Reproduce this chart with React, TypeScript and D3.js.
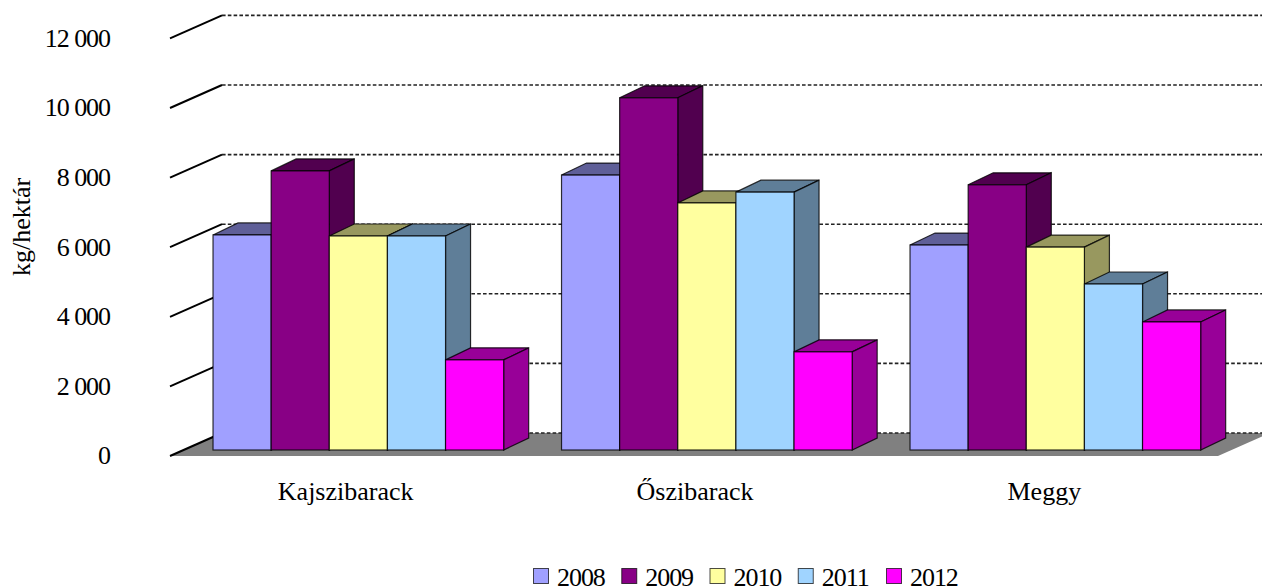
import { useEffect, useRef } from 'react';
import { scaleBand, scaleLinear, scalePoint, select, formatLocale, color } from 'd3';

const categories = ['Kajszibarack', 'Őszibarack', 'Meggy'];
const years = ['2008', '2009', '2010', '2011', '2012'];
const colors = ['#a0a0ff', '#880085', '#ffff9f', '#a0d4ff', '#ff00ff'];
const values2008 = [6180, 7900, 5890];
const values2009 = [8020, 10120, 7620];
const values2010 = [6150, 7100, 5830];
const values2011 = [6150, 7410, 4770];
const values2012 = [2590, 2820, 3680];
const series = [values2008, values2009, values2010, values2011, values2012];
const ticks = [0, 2000, 4000, 6000, 8000, 10000, 12000];

const width = 1262;
const height = 588;
const font = '"Liberation Serif", "Times New Roman", serif';

const fmt = formatLocale({ decimal: ',', thousands: ' ', grouping: [3], currency: ['', ''] }).format(',d');

const App = () => {
  const ref = useRef<SVGSVGElement>(null);

  useEffect(() => {
    const svg = select(ref.current);
    svg.selectAll('*').remove();

    // floor: front edge to back edge
    const frontLeft = 170;
    const frontRight = 1218;
    const floorDx = 52;
    const floorDy = -23;
    const barDx = 25;
    const barDy = -12;
    const baseLift = 6;

    const y = scaleLinear().domain([0, 12000]).range([456, 38.4]);
    const x0 = scaleBand().domain(categories).range([184.1, 1229.6]).paddingInner(0.166).paddingOuter(0.083);
    const x1 = scaleBand().domain(years).range([0, x0.bandwidth()]);
    const xLabel = scaleBand().domain(categories).range([frontLeft + 1, frontRight + 1]);

    svg
      .append('polygon')
      .attr(
        'points',
        [
          [frontLeft, y(0)],
          [frontLeft + floorDx, y(0) + floorDy],
          [frontRight + floorDx, y(0) + floorDy],
          [frontRight, y(0)],
        ].join(' '),
      )
      .attr('fill', '#808080');

    const grid = svg.append('g');
    ticks.forEach((t) => {
      grid
        .append('line')
        .attr('x1', frontLeft + floorDx)
        .attr('x2', width)
        .attr('y1', y(t) + floorDy)
        .attr('y2', y(t) + floorDy)
        .attr('stroke', '#222')
        .attr('stroke-width', 1.6)
        .attr('stroke-dasharray', '3.6 2.2');
      grid
        .append('line')
        .attr('x1', frontLeft)
        .attr('x2', frontLeft + floorDx)
        .attr('y1', y(t))
        .attr('y2', y(t) + floorDy)
        .attr('stroke', '#000')
        .attr('stroke-width', 2);
      grid
        .append('text')
        .attr('x', 110)
        .attr('y', y(t))
        .attr('dy', '0.32em')
        .attr('text-anchor', 'end')
        .attr('font-family', font)
        .attr('font-size', 26)
        .attr('letter-spacing', -1.05)
        .text(fmt(t));
    });

    const bars = svg.append('g').attr('stroke', '#000').attr('stroke-width', 1.2).attr('stroke-opacity', 0.8);
    categories.forEach((cat, c) => {
      years.forEach((year, s) => {
        const xl = (x0(cat) as number) + (x1(year) as number);
        const xr = xl + x1.bandwidth();
        const top = y(series[s][c]) - baseLift;
        const base = y(0) - baseLift;
        const dark = (color(colors[s]) as any).darker(1.45).formatHex();

        bars
          .append('polygon')
          .attr('points', [[xl, top], [xl + barDx, top + barDy], [xr + barDx, top + barDy], [xr, top]].join(' '))
          .attr('fill', dark);
        bars
          .append('polygon')
          .attr('points', [[xr, top], [xr + barDx, top + barDy], [xr + barDx, base + barDy], [xr, base]].join(' '))
          .attr('fill', dark);
        bars
          .append('rect')
          .attr('x', xl)
          .attr('y', top)
          .attr('width', x1.bandwidth())
          .attr('height', base - top)
          .attr('fill', colors[s]);
      });

      svg
        .append('text')
        .attr('x', (xLabel(cat) as number) + xLabel.bandwidth() / 2)
        .attr('y', 500)
        .attr('text-anchor', 'middle')
        .attr('font-family', font)
        .attr('font-size', 26)
        .text(cat);
    });

    svg
      .append('text')
      .attr('transform', 'translate(29.5,227) rotate(-90)')
      .attr('text-anchor', 'middle')
      .attr('font-family', font)
      .attr('font-size', 26)
      .text('kg/hektár');

    const legendX = scalePoint().domain(years).range([533, 886]);
    years.forEach((year, s) => {
      const lx = legendX(year) as number;
      svg
        .append('rect')
        .attr('x', lx + 0.5)
        .attr('y', 568.5)
        .attr('width', 15)
        .attr('height', 15)
        .attr('fill', colors[s])
        .attr('stroke', '#000')
        .attr('stroke-opacity', 0.7);
      svg
        .append('text')
        .attr('x', lx + 24)
        .attr('y', 586)
        .attr('font-family', font)
        .attr('font-size', 26)
        .attr('letter-spacing', -1.05)
        .text(year);
    });
  }, []);

  return (
    <svg
      ref={ref}
      width={width}
      height={height}
      style={{ position: 'absolute', left: 0, top: 0, display: 'block', background: '#fff' }}
    />
  );
};

export default App;
